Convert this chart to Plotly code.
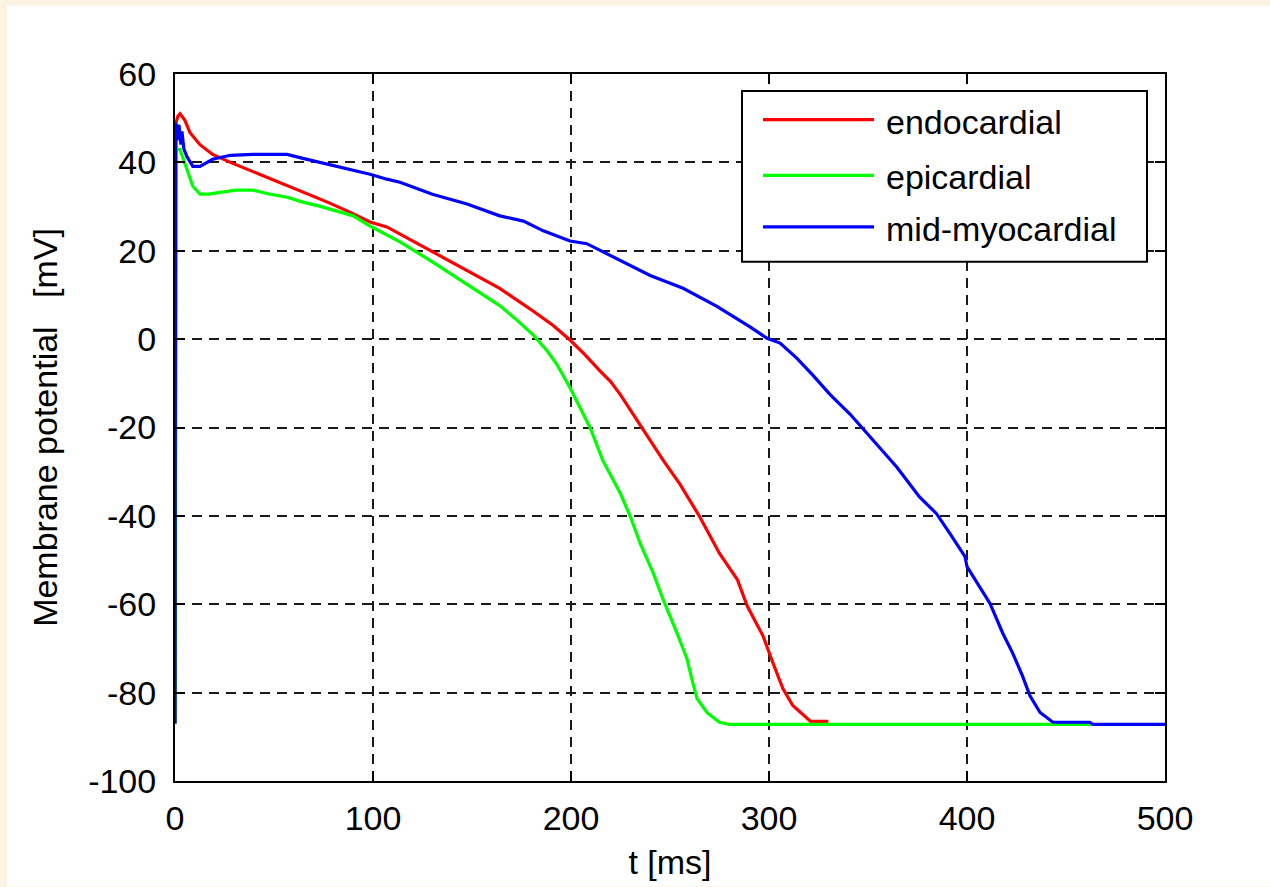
import plotly.graph_objects as go

# ---- data ----
endo_t = [0, 0.5, 1.5, 2.5, 5, 7.6, 12.6, 19, 28, 39, 53, 65, 77, 88, 98.5, 107, 113.6, 130, 147,
          164, 181, 191, 199.5, 207, 214.6, 220, 225, 230, 236, 246.5, 255, 265, 275, 284, 289,
          297, 302, 307, 312, 319, 321, 330]
endo_v = [-87, 49, 50.5, 51, 49.5, 46.7, 44, 41.8, 40, 38, 35.5, 33.3, 31, 28.8, 26.5, 25.4, 23.8,
          19.8, 15.5, 11.5, 6.3, 3.1, -0.2, -3.5, -7.2, -9.6, -12.6, -16, -20, -27.4, -32.8, -40.2,
          -48.5, -54.4, -60.4, -67.2, -73.3, -79.1, -82.9, -85.8, -86.5, -86.5]

epi_t = [0, 0.5, 2.5, 4, 6, 9, 12.6, 17, 22.7, 31, 39.4, 48, 56.6, 64.6, 73, 82, 90, 98.5, 113.6,
         130, 147, 164, 172.7, 181, 188, 193, 199.5, 209.6, 216, 225, 230, 235, 241.6, 246.5,
         253.5, 258.6, 261, 263.6, 268.7, 275, 280, 463]
epi_v = [-87, 43, 42.9, 41, 38.4, 34.6, 32.8, 32.8, 33.2, 33.7, 33.7, 32.8, 32.1, 31, 30.1, 29,
         27.9, 25.6, 22, 17.5, 12.6, 7.6, 4.3, 0.9, -2.7, -5.8, -11, -20, -27.4, -35, -40.2, -46.3,
         -53, -58.9, -66.5, -72.4, -76.9, -81.3, -84.5, -86.7, -87.2, -87.2]

mid_t = [0, 0.3, 1, 2, 3, 3.5, 4.5, 6, 9, 12.6, 19, 28, 39.4, 56.6, 64.6, 73, 82, 90, 98.5, 107,
         113.6, 130, 147.5, 164, 176, 186, 199.5, 208, 223, 240, 256.6, 273.7, 290, 299, 305.6,
         314, 322, 331, 341, 351, 364.6, 376, 384.6, 391.4, 399, 400, 411.6, 418, 423, 428,
         431.8, 436.9, 443.4, 462, 463.6, 500]
mid_v = [-87, 49, 45, 48.5, 44, 47, 43, 41.3, 39.1, 39.1, 40.7, 41.6, 41.8, 41.8, 40.9, 40, 39.1,
         38.2, 37.3, 36.2, 35.5, 32.8, 30.6, 27.9, 26.7, 24.5, 22.2, 21.6, 18.2, 14.4, 11.5, 7.4,
         2.9, 0.2, -0.9, -4.3, -8.1, -12.6, -17, -22.2, -29, -35.7, -39.5, -44, -49.2, -51.5,
         -59.8, -66.5, -71, -76.2, -80.7, -84.5, -86.7, -86.7, -87.2, -87.2]

names = ["endocardial", "epicardial", "mid-myocardial"]
colors = ["#FF0000", "#00FF00", "#0000FF"]
x_ticks = [0, 100, 200, 300, 400, 500]
x_labels = ["0", "100", "200", "300", "400", "500"]
y_ticks = [-100, -80, -60, -40, -20, 0, 20, 40, 60]
y_labels = ["-100", "-80", "-60", "-40", "-20", "0", "20", "40", "60"]

FONT = "Liberation Sans, Arial, sans-serif"
FS = 34

# page geometry helpers (plot area in page px)
L, R, T, B = 175, 1165, 74, 786
def px(xp): return (xp - L) / (R - L)
def py(yp): return (B - yp) / (B - T)

fig = go.Figure()
for i, (t, v) in enumerate([(endo_t, endo_v), (epi_t, epi_v), (mid_t, mid_v)]):
    fig.add_trace(go.Scatter(x=t, y=v, mode="lines", name=names[i], showlegend=False,
                             line=dict(color=colors[i], width=3.2)))

axis_common = dict(
    showline=True, linecolor="black", linewidth=2, mirror="ticks",
    ticks="inside", ticklen=10, tickwidth=1.5, tickcolor="black",
    showgrid=True, gridcolor="#1a1a1a", gridwidth=1.6, griddash="10px,7px",
    zeroline=False, tickfont=dict(family=FONT, size=FS, color="black"),
)

shapes = [dict(type="rect", xref="paper", yref="paper",
               x0=px(7), x1=px(1275), y0=py(892), y1=py(5),
               fillcolor="white", line=dict(width=0), layer="below")]
annotations = []
# custom legend box (matches the reference's long line samples)
shapes.append(dict(type="rect", xref="paper", yref="paper",
                   x0=px(742), x1=px(1147), y0=py(263), y1=py(91),
                   fillcolor="white", line=dict(color="black", width=2), layer="above"))
leg_y = [120, 176, 228]
for i in range(3):
    shapes.append(dict(type="line", xref="paper", yref="paper",
                       x0=px(763), x1=px(874), y0=py(leg_y[i]), y1=py(leg_y[i]),
                       line=dict(color=colors[i], width=3.2), layer="above"))
    annotations.append(dict(xref="paper", yref="paper", x=px(884), y=py(leg_y[i] + 2),
                            text=names[i], showarrow=False, xanchor="left", yanchor="middle",
                            font=dict(family=FONT, size=FS, color="black")))

fig.update_layout(
    width=1270, height=887,
    margin=dict(l=L, r=1270 - R, t=T, b=887 - B),
    paper_bgcolor="#FCF3E0", plot_bgcolor="white",
    xaxis=dict(range=[0, 500], tickvals=x_ticks, ticktext=x_labels, ticklabelstandoff=6, **axis_common,
               title=dict(text="t [ms]", font=dict(family=FONT, size=FS, color="black"), standoff=14)),
    yaxis=dict(range=[-100, 60], tickvals=y_ticks, ticktext=y_labels, ticklabelstandoff=10, **axis_common,
               title=dict(text="Membrane potential\u00a0\u00a0\u00a0[mV]",
                          font=dict(family=FONT, size=FS, color="black"), standoff=20)),
    showlegend=False,
    shapes=shapes,
    annotations=annotations,
)

fig.write_html("out.html", config={"displayModeBar": False},
               post_script="document.body.style.margin='0';document.body.style.background='#FCF3E0';")
